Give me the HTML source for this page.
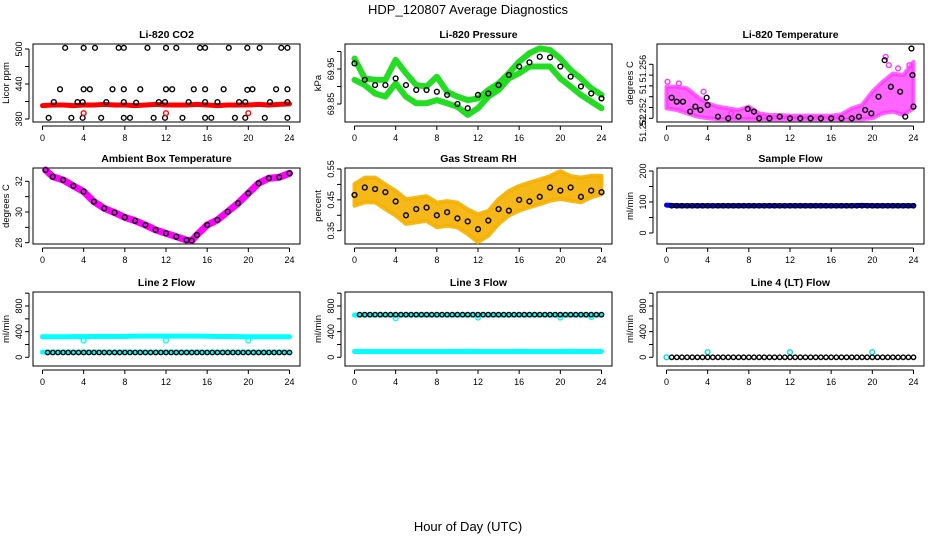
<!DOCTYPE html>
<html><head><meta charset="utf-8"><style>
html,body{margin:0;padding:0;background:#fff;}
svg{display:block;font-family:"Liberation Sans",sans-serif;}
</style></head><body>
<svg id="chart" width="936" height="540" viewBox="0 0 936 540" xmlns="http://www.w3.org/2000/svg">
<text x="468" y="14" font-size="13" text-anchor="middle">HDP_120807  Average Diagnostics</text>
<text x="468" y="531" font-size="13" text-anchor="middle">Hour of Day (UTC)</text>
</svg>
<script>
// ---- data ----
const hours = [0,1,2,3,4,5,6,7,8,9,10,11,12,13,14,15,16,17,18,19,20,21,22,23,24];
const halfHours = [0.5,1,1.5,2,2.5,3,3.5,4,4.5,5,5.5,6,6.5,7,7.5,8,8.5,9,9.5,10,10.5,11,11.5,12,12.5,13,13.5,14,14.5,15,15.5,16,16.5,17,17.5,18,18.5,19,19.5,20,20.5,21,21.5,22,22.5,23,23.5,24];
// CO2
const co2Band = [403,404,404,403,404,404,405,404,404,403,404,405,404,404,404,405,404,403,404,404,404,405,404,405,406];
const co2TopT = [2.2,4,5.1,7.4,7.9,10.2,12,13,15.3,15.8,18.1,19.9,21.1,23.2,23.8];
const co2Top = [502,502,502,502,502,502,502,502,502,502,502,502,502,502,502];
const co2MidT = [1.7,4,4.6,6.8,7.9,9.5,12,12.6,14.7,15.8,17.6,19.9,20.4,22.7,23.8];
const co2Mid = [431,431,431,431,431,431,431,431,431,431,431,430,431,431,431];
const co2LowT = [1.1,3.4,3.9,6.2,7.9,9.1,11.3,11.9,14.2,15.8,17,19.1,19.7,22.1,23.8];
const co2Low = [409,409,409,409,409,408,409,409,409,409,409,409,409,409,409];
const co2BotT = [0.6,2.8,3.9,5.7,7.9,8.5,10.8,11.9,13.6,15.8,16.4,18.7,19.7,21.6,23.8];
const co2Bot = [382,382,382,382,382,382,382,382,382,382,382,382,382,382,382];
const co2RedT = [4,12,20];
const co2Red = [390,390,390];
// Pressure
const presUpper = [69.980,69.923,69.919,69.919,69.976,69.938,69.904,69.900,69.928,69.885,69.871,69.861,69.866,69.890,69.909,69.938,69.971,69.995,70.009,70.004,69.980,69.947,69.923,69.895,69.876];
const presLower = [69.919,69.904,69.880,69.871,69.909,69.871,69.852,69.852,69.861,69.852,69.842,69.819,69.838,69.871,69.890,69.923,69.938,69.957,69.957,69.957,69.923,69.900,69.876,69.857,69.838];
const presMean = [69.966,69.919,69.904,69.904,69.923,69.904,69.890,69.890,69.885,69.876,69.850,69.838,69.876,69.880,69.904,69.933,69.957,69.969,69.985,69.983,69.957,69.928,69.900,69.880,69.866];
// Li-820 temperature
const tempUpper = [51.25492,51.25492,51.25477,51.25400,51.25338,51.25308,51.25292,51.25277,51.25308,51.25246,51.25231,51.25231,51.25225,51.25225,51.25225,51.25225,51.25225,51.25237,51.25292,51.25323,51.25446,51.25538,51.25615,51.25600,51.25723];
const tempLower = [51.25292,51.25277,51.25246,51.25215,51.25200,51.25191,51.25191,51.25191,51.25191,51.25191,51.25191,51.25191,51.25191,51.25191,51.25191,51.25191,51.25191,51.25191,51.25191,51.25191,51.25200,51.25246,51.25262,51.25231,51.25292];
const tempMeanT = [0.5,1,1.6,2.3,2.8,3.3,3.9,4,5,6,7,7.9,8.5,9,10,11,12,13,14,15,16,17,18,18.7,19.3,19.9,20.6,21.2,21.8,22.7,23.2,23.8,23.9,24];
const tempMean = [51.25391,51.25354,51.25354,51.25262,51.25308,51.25277,51.25391,51.25323,51.25215,51.25200,51.25215,51.25286,51.25262,51.25200,51.25200,51.25215,51.25200,51.25200,51.25200,51.25200,51.25200,51.25200,51.25200,51.25215,51.25277,51.25246,51.25400,51.25738,51.25492,51.25446,51.25215,51.25846,51.25600,51.25308];
const tempOutT = [0.1,1.2,3.6,6.3,21.3,21.6,22.5,23.6];
const tempOut = [51.25538,51.25523,51.25446,51.25246,51.25769,51.25692,51.25662,51.25692];
// Ambient box temperature
const ambT = [0.3,1,2,3,4,5,6,7,8,9,10,11,12,13,14,14.5,15,16,17,18,19,20,21,22,23,24];
const amb = [32.74,32.3,32.09,31.7,31.33,30.67,30.24,29.96,29.65,29.43,29.15,28.83,28.61,28.39,28.17,28.13,28.5,29.15,29.48,30.02,30.57,31.22,31.87,32.2,32.26,32.52];
// RH
const rhCenter = [0.466,0.482,0.482,0.460,0.439,0.412,0.417,0.422,0.401,0.406,0.401,0.379,0.358,0.374,0.412,0.439,0.455,0.466,0.476,0.487,0.498,0.487,0.482,0.493,0.498];
const rhSpread = [0.035,0.04,0.04,0.04,0.04,0.04,0.04,0.04,0.04,0.04,0.04,0.04,0.045,0.04,0.04,0.04,0.04,0.04,0.04,0.04,0.045,0.04,0.04,0.035,0.03];
const rhMean = [0.466,0.49,0.485,0.475,0.445,0.40,0.42,0.425,0.40,0.41,0.39,0.38,0.355,0.383,0.42,0.415,0.45,0.445,0.46,0.49,0.48,0.49,0.46,0.48,0.475];
// Sample flow
const sampleFlow = [90,88,88,88,88,88,88,88,88,88,88,88,88,88,88,88,88,88,88,89,88,88,88,88,88];
const sampleBlack = [88,88,88,88,88,88,88,88,88,88,88,88,88,88,88,88,88,88,88,88,88,88,88,88,88,88,88,88,88,88,88,88,88,88,88,88,88,88,88,88,88,88,88,88,88,88,88,88];
// Line 2 flow
const line2Upper = [320,320,320,322,322,325,325,325,325,330,330,330,330,330,330,330,328,325,325,322,320,320,320,320,320];
const line2DipT = [4,12,20];
const line2Dip = [262,262,262];
const line2Lower = [80,80,80,80,80,80,80,80,80,80,80,80,80,80,80,80,80,80,80,80,80,80,80,80,80];
const line2Black = [75,75,75,75,75,75,75,75,75,75,75,75,75,75,75,75,75,75,75,75,75,75,75,75,75,75,75,75,75,75,75,75,75,75,75,75,75,75,75,75,75,75,75,75,75,75,75,75];
// Line 3 flow
const line3Upper = [660,660,660,660,660,660,660,660,660,660,660,660,660,660,660,660,660,660,660,660,660,660,660,660,660];
const line3DipT = [4,12,20,23];
const line3Dip = [610,620,620,630];
const line3Lower = [90,90,90,90,90,90,90,90,90,90,90,92,90,90,90,90,92,90,90,90,90,92,90,90,90];
const line3Black = [665,665,665,665,665,665,665,665,665,665,665,665,665,665,665,665,665,665,665,665,665,665,665,665,665,665,665,665,665,665,665,665,665,665,665,665,665,665,665,665,665,665,665,665,665,665,665,665];
// Line 4 flow
const line4CyanT = [0,4,12,20];
const line4Cyan = [0,80,80,80];
const line4Black = [0,0,0,0,0,0,0,0,0,0,0,0,0,0,0,0,0,0,0,0,0,0,0,0,0,0,0,0,0,0,0,0,0,0,0,0,0,0,0,0,0,0,0,0,0,0,0,0];
const xTicks = [0,4,8,12,16,20,24];

// ---- drawing ----
const svg = document.getElementById('chart');
const NS = 'http://www.w3.org/2000/svg';
function mk(tag, attrs, parent){const e=document.createElementNS(NS,tag);for(const k in attrs)e.setAttribute(k,attrs[k]);(parent||svg).appendChild(e);return e;}
const colLeft=[33,345,657], rowTop=[44,168,292], rowH=[78,76,74], W=267;

function panel(col,row,title,ylab,a1,a2,ticks,labels,name){
  const L=colLeft[col],T=rowTop[row],H=rowH[row];
  const g=mk('g',{});
  
  
  const xs=t=>L+9.5+t/24*247;
  const ys=v=>a1[1]+(v-a1[0])*(a2[1]-a1[1])/(a2[0]-a1[0]);
  const box=mk('rect',{x:L,y:T,width:W,height:H,fill:'none',stroke:'#000','stroke-width':1},g);
  
  
  const tt=mk('text',{x:L+W/2,y:T-6,'font-size':10.5,'font-weight':'bold','text-anchor':'middle'},g);tt.textContent=title;
  
  
  const yl=mk('text',{transform:`translate(${L-24},${T+H/2}) rotate(-90)`,'font-size':9.5,'text-anchor':'middle'},g);yl.textContent=ylab;
  
  
  const xa=mk('g',{},g);
  
  
  mk('line',{x1:xs(0),x2:xs(24),y1:T+H+4,y2:T+H+4,stroke:'#000'},xa);
  xTicks.forEach(t=>{mk('line',{x1:xs(t),x2:xs(t),y1:T+H+4,y2:T+H+8,stroke:'#000'},xa);
    const tx=mk('text',{x:xs(t),y:T+H+19,'font-size':9,'text-anchor':'middle'},xa);tx.textContent=t;});
  const ya=mk('g',{},g);
  
  
  mk('line',{x1:L-4,x2:L-4,y1:ys(ticks[0]),y2:ys(ticks[ticks.length-1]),stroke:'#000'},ya);
  ticks.forEach(v=>mk('line',{x1:L-8,x2:L-4,y1:ys(v),y2:ys(v),stroke:'#000'},ya));
  labels.forEach(([v,s])=>{const tx=mk('text',{transform:`translate(${L-11},${ys(v)}) rotate(-90)`,'font-size':9,'text-anchor':'middle'},ya);tx.textContent=s;});
  const marks=mk('g',{},g);
  return {xs,ys,g:marks};
}
function band(p,ts,vals,color,w,name){
  const pl=mk('polyline',{points:ts.map((t,i)=>p.xs(t)+','+p.ys(vals[i])).join(' '),fill:'none',stroke:color,'stroke-width':w,'stroke-linejoin':'round','stroke-linecap':'round'},p.g);
  
  
}
function area(p,ts,up,lo,color,op,name){
  const pts=ts.map((t,i)=>p.xs(t)+','+p.ys(up[i])).concat(ts.slice().reverse().map((t,j)=>p.xs(t)+','+p.ys(lo[ts.length-1-j])));
  const pg=mk('polygon',{points:pts.join(' '),fill:color,'fill-opacity':op,stroke:color,'stroke-opacity':op,'stroke-width':4,'stroke-linejoin':'round'},p.g);
  
  
}
function pts(p,ts,vals,color,name,r){
  ts.forEach((t,i)=>{const c=mk('circle',{cx:p.xs(t),cy:p.ys(vals[i]),r:r||2.4,fill:'none',stroke:color,'stroke-width':1.4},p.g);
    
    });
}

// P1 CO2
let p=panel(0,0,'Li-820 CO2','Licor ppm',[380,119],[500,49],[380,410,440,470,500],[[380,'380'],[440,'440'],[500,'500']],'co2-panel');
band(p,hours,co2Band,'#ff0000',5,'co2-band');
pts(p,co2TopT,co2Top,'#000','co2-point');pts(p,co2MidT,co2Mid,'#000','co2-point');pts(p,co2LowT,co2Low,'#000','co2-point');pts(p,co2BotT,co2Bot,'#000','co2-point');
pts(p,co2RedT,co2Red,'#ff0000','co2-red-point');
// P2 Pressure
p=panel(1,0,'Li-820 Pressure','kPa',[69.95,69],[69.85,104],[69.85,69.9,69.95,70.0],[[69.85,'69.85'],[69.95,'69.95']],'pressure-panel');
band(p,hours,presUpper,'#22dd22',6,'pressure-band-upper');
band(p,hours,presLower,'#22dd22',6,'pressure-band-lower');
pts(p,hours,presMean,'#000','pressure-point');
// P3 Temperature
p=panel(2,0,'Li-820 Temperature','degrees C',[51.252,118.3],[51.253,107.5],[51.252,51.253,51.254,51.255,51.256,51.257],[[51.2511,'51.252'],[51.2526,'51.252'],[51.2547,'51'],[51.2566,'51.256']],'temperature-panel');
area(p,hours,tempUpper,tempLower,'#ff33ff',0.75,'temperature-cloud');
pts(p,tempOutT,tempOut,'#ff33ff','temperature-outlier');
pts(p,tempMeanT,tempMean,'#000','temperature-point');
// P4 Ambient
p=panel(0,1,'Ambient Box Temperature','degrees C',[28,242.7],[32,181.3],[28,29,30,31,32],[[28,'28'],[30,'30'],[32,'32']],'ambient-panel');
band(p,ambT,amb,'#ff00ff',7,'ambient-band');
pts(p,ambT,amb,'#000','ambient-point');
// P5 RH
p=panel(1,1,'Gas Stream RH','percent',[0.55,169],[0.35,230.7],[0.35,0.4,0.45,0.5,0.55],[[0.35,'0.35'],[0.45,'0.45'],[0.55,'0.55']],'rh-panel');
area(p,hours,rhCenter.map((v,i)=>v+rhSpread[i]),rhCenter.map((v,i)=>v-rhSpread[i]),'#f5b000',0.9,'rh-cloud');
pts(p,hours,rhMean,'#000','rh-point');
// P6 Sample flow
p=panel(2,1,'Sample Flow','ml/min',[0,233],[200,171],[0,50,100,150,200],[[0,'0'],[100,'100'],[200,'200']],'sample-flow-panel');
band(p,hours,sampleFlow,'#0000ff',5,'sample-flow-band');
pts(p,halfHours,sampleBlack,'#000','sample-flow-point',2.2);
// Row 3
const flowTicks=[0,200,400,600,800,1000], flowLabels=[[0,'0'],[400,'400'],[800,'800']];
p=panel(0,2,'Line 2 Flow','ml/min',[0,357.3],[800,306],flowTicks,flowLabels,'line2-panel');
band(p,hours,line2Upper,'#00ffff',5,'line2-band-upper');
pts(p,line2DipT,line2Dip,'#00ffff','line2-dip-point');
band(p,hours,line2Lower,'#00ffff',5,'line2-band-lower');
pts(p,halfHours,line2Black,'#000','line2-point',2.2);
p=panel(1,2,'Line 3 Flow','ml/min',[0,357.3],[800,306],flowTicks,flowLabels,'line3-panel');
band(p,hours,line3Upper,'#00ffff',5,'line3-band-upper');
pts(p,line3DipT,line3Dip,'#00ffff','line3-dip-point');
band(p,hours,line3Lower,'#00ffff',5,'line3-band-lower');
pts(p,halfHours,line3Black,'#000','line3-point',2.2);
p=panel(2,2,'Line 4 (LT) Flow','ml/min',[0,357.3],[800,306],flowTicks,flowLabels,'line4-panel');
pts(p,line4CyanT,line4Cyan,'#00dddd','line4-cyan-point');
pts(p,halfHours,line4Black,'#000','line4-point',2.2);
</script>
</body></html>
